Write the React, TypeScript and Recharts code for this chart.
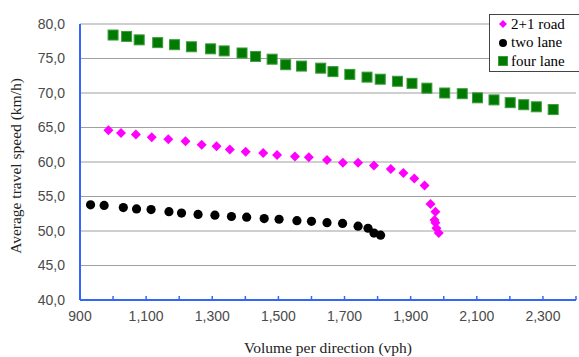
import React from 'react';
import { ScatterChart, Scatter, XAxis, YAxis, CartesianGrid, Legend } from 'recharts';

// volume per direction (vph) / average speed (km/h)
const roadX = [986, 1024, 1069, 1117, 1167, 1219, 1268, 1313, 1353, 1401, 1454, 1496, 1550, 1592, 1647, 1695, 1741, 1789, 1840, 1878, 1911, 1942, 1960, 1975, 1972, 1975, 1978, 1985];
const roadY = [64.6, 64.2, 64.0, 63.6, 63.3, 63.0, 62.5, 62.3, 61.8, 61.5, 61.3, 61.0, 60.8, 60.7, 60.3, 59.9, 59.9, 59.5, 59.0, 58.4, 57.6, 56.6, 53.9, 52.8, 51.6, 51.2, 50.4, 49.7];

const twoLaneX = [932, 973, 1031, 1071, 1115, 1169, 1207, 1257, 1308, 1358, 1404, 1457, 1502, 1556, 1600, 1647, 1694, 1741, 1771, 1789, 1809];
const twoLaneY = [53.8, 53.7, 53.4, 53.2, 53.1, 52.8, 52.6, 52.4, 52.3, 52.1, 52.0, 51.8, 51.7, 51.5, 51.4, 51.2, 51.1, 50.7, 50.4, 49.7, 49.4];

const fourLaneX = [1000, 1041, 1079, 1135, 1186, 1237, 1295, 1336, 1390, 1431, 1481, 1522, 1570, 1628, 1665, 1716, 1768, 1808, 1860, 1904, 1949, 2003, 2056, 2102, 2152, 2201, 2242, 2280, 2331];
const fourLaneY = [78.4, 78.2, 77.7, 77.3, 77.0, 76.7, 76.4, 76.1, 75.8, 75.3, 74.9, 74.1, 73.9, 73.6, 73.1, 72.7, 72.3, 72.0, 71.7, 71.4, 70.7, 70.0, 69.9, 69.3, 69.0, 68.6, 68.3, 68.0, 67.6];

const seriesNames = ['2+1 road', 'two lane', 'four lane'];
const xTicks = [900, 1000, 1100, 1200, 1300, 1400, 1500, 1600, 1700, 1800, 1900, 2000, 2100, 2200, 2300, 2400];
const yTicks = [40, 45, 50, 55, 60, 65, 70, 75, 80];

const toPoints = (xs: number[], ys: number[]) => xs.map((x, i) => ({ x, y: ys[i] }));

const AXIS_BLUE = '#3366ff';
const MAGENTA = '#ff00ff';
const GREEN = '#007a00';
const TICK_GRAY = '#4a4a4a';
const SERIF = 'Liberation Serif, Times New Roman, serif';
const SANS = 'Liberation Sans, Arial, sans-serif';

const DiamondShape = (props: any) => {
  const { cx, cy } = props;
  const r = 5;
  return <path d={`M${cx},${cy - r}L${cx + r},${cy}L${cx},${cy + r}L${cx - r},${cy}Z`} fill={MAGENTA} />;
};

const CircleShape = (props: any) => <circle cx={props.cx} cy={props.cy} r={4.6} fill='#000' />;

const SquareShape = (props: any) => (
  <rect x={props.cx - 5} y={props.cy - 5} width={10} height={10} fill={GREEN} stroke='#3c9c3c' strokeWidth={1} />
);

// ticks every 100, labels every 200; tick marks point into the plot
const XTick = (props: any) => {
  const { x, y, payload } = props;
  const v = payload.value as number;
  const showLabel = (v - 900) % 200 === 0 && v < 2400;
  return (
    <g>
      <line x1={x} x2={x} y1={y} y2={y - 4} stroke={AXIS_BLUE} strokeWidth={1.5} />
      {showLabel && (
        <text x={x} y={y + 17} textAnchor='middle' dominantBaseline='middle' fill={TICK_GRAY} fontSize={14} fontFamily={SANS}>
          {v.toLocaleString('en-US')}
        </text>
      )}
    </g>
  );
};

const YLabel = (props: any) => {
  const { viewBox } = props;
  const cx = viewBox.x + 17;
  const cy = viewBox.y + viewBox.height / 2 + 4;
  return (
    <text
      x={cx}
      y={cy}
      transform={`rotate(-90, ${cx}, ${cy})`}
      textAnchor='middle'
      dominantBaseline='middle'
      fontFamily={SERIF}
      fontSize={15.5}
      fill='#222'>
      Average travel speed (km/h)
    </text>
  );
};

const LegendBox = () => {
  const markers = [
    <path key='d' d='M5,1L9,5L5,9L1,5Z' fill={MAGENTA} />,
    <circle key='c' cx={5} cy={5} r={4} fill='#000' />,
    <rect key='s' x={0.5} y={0.5} width={9} height={9} fill={GREEN} stroke='#3c9c3c' />,
  ];
  return (
    <div
      style={{
        width: 86,
        height: 56,
        border: '1.5px solid #444',
        background: '#fff',
        fontFamily: SERIF,
        fontSize: 15,
        color: '#000',
        paddingLeft: 8,
        boxSizing: 'content-box',
      }}>
      {seriesNames.map((name, i) => (
        <div key={name} style={{ height: 18.5, display: 'flex', alignItems: 'center' }}>
          <svg width={10} height={10} style={{ marginRight: 3 }}>
            {markers[i]}
          </svg>
          <span>{name}</span>
        </div>
      ))}
    </div>
  );
};

export default function App() {
  return (
    <div style={{ position: 'absolute', left: 0, top: 0, background: '#fff' }}>
      <ScatterChart width={579} height={357} margin={{ top: 24, right: 3, bottom: 0, left: 0 }}>
        <CartesianGrid vertical={false} stroke='#a0a0a0' strokeWidth={1.2} />
        <XAxis
          type='number'
          dataKey='x'
          domain={[900, 2400]}
          ticks={xTicks}
          interval={0}
          tick={<XTick />}
          tickLine={false}
          tickSize={0}
          tickMargin={0}
          height={57}
          axisLine={{ stroke: AXIS_BLUE, strokeWidth: 2 }}
          label={{
            value: 'Volume per direction (vph)',
            position: 'insideBottom',
            offset: 4,
            style: { fontFamily: SERIF, fontSize: 15.5, fill: '#222' },
          }}
        />
        <YAxis
          type='number'
          dataKey='y'
          domain={[40, 80]}
          ticks={yTicks}
          interval={0}
          width={80}
          tickLine={false}
          tickSize={0}
          tickMargin={15}
          tickFormatter={(v: number) => v.toFixed(1).replace('.', ',')}
          tick={{ fill: TICK_GRAY, fontSize: 14, fontFamily: SANS }}
          axisLine={{ stroke: AXIS_BLUE, strokeWidth: 2 }}
          label={{ content: (p: any) => <YLabel {...p} /> }}
        />
        <Legend
          layout='vertical'
          align='center'
          verticalAlign='middle'
          content={() => <LegendBox />}
          wrapperStyle={{ top: 14, left: 489, width: 'auto', height: 'auto' }}
        />
        <Scatter name={seriesNames[2]} data={toPoints(fourLaneX, fourLaneY)} shape={SquareShape} isAnimationActive={false} />
        <Scatter name={seriesNames[1]} data={toPoints(twoLaneX, twoLaneY)} shape={CircleShape} isAnimationActive={false} />
        <Scatter name={seriesNames[0]} data={toPoints(roadX, roadY)} shape={DiamondShape} isAnimationActive={false} />
      </ScatterChart>
    </div>
  );
}
